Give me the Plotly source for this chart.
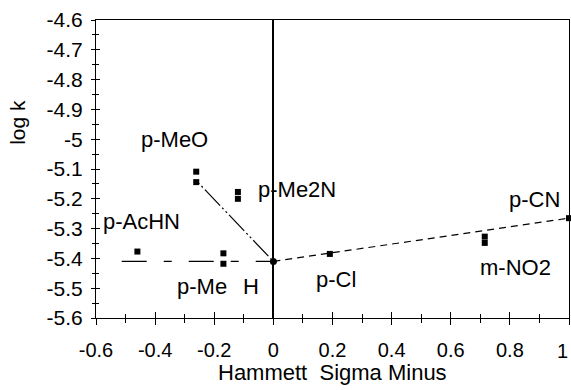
import plotly.graph_objects as go

# ---- data ----
sub_x = [-0.261, -0.261, -0.12, -0.12, -0.46, -0.169, -0.169, 0.191, 0.715, 0.715, 1.0]
sub_y = [-5.109, -5.144, -5.177, -5.200, -5.377, -5.383, -5.418, -5.385, -5.327, -5.348, -5.265]
h_x = [0.0]
h_y = [-5.41]

fit_right_x = [0.0, 1.0]
fit_right_y = [-5.41, -5.265]
fit_left_x = [-0.513, 0.0]
fit_left_y = [-5.41, -5.41]
fit_mid_x = [-0.255, 0.0]
fit_mid_y = [-5.145, -5.41]

x_tick_vals = [-0.6, -0.4, -0.2, 0.0, 0.2, 0.4, 0.6, 0.8, 1.0]
x_tick_labels = ["-0.6", "-0.4", "-0.2", "0", "0.2", "0.4", "0.6", "0.8", "1"]
y_tick_vals = [-4.6, -4.7, -4.8, -4.9, -5.0, -5.1, -5.2, -5.3, -5.4, -5.5, -5.6]
y_tick_labels = ["-4.6", "-4.7", "-4.8", "-4.9", "-5", "-5.1", "-5.2", "-5.3", "-5.4", "-5.5", "-5.6"]

labels = ["p-MeO", "p-Me2N", "p-AcHN", "p-Me", "H", "p-Cl", "m-NO2", "p-CN"]
x_title = "Hammett  Sigma Minus"
y_title = "log k"

FONT = "Arial, Liberation Sans, sans-serif"

fig = go.Figure()

fig.add_trace(go.Scatter(x=fit_right_x, y=fit_right_y, mode="lines",
                         line=dict(color="black", width=1.2, dash="7px,5px"),
                         showlegend=False, hoverinfo="skip"))
fig.add_trace(go.Scatter(x=fit_left_x, y=fit_left_y, mode="lines",
                         line=dict(color="black", width=1.2, dash="25px,17px,8px,17px"),
                         showlegend=False, hoverinfo="skip"))
fig.add_trace(go.Scatter(x=fit_mid_x, y=fit_mid_y, mode="lines",
                         line=dict(color="black", width=1.2, dash="2px,3px,2px,3px,22px,3px"),
                         showlegend=False, hoverinfo="skip"))
fig.add_trace(go.Scatter(x=sub_x, y=sub_y, mode="markers",
                         marker=dict(symbol="square", size=6, color="black"),
                         showlegend=False, cliponaxis=False))
fig.add_trace(go.Scatter(x=h_x, y=h_y, mode="markers",
                         marker=dict(symbol="circle", size=7, color="black"),
                         showlegend=False, cliponaxis=False))
# invisible trace to activate the inside-tick axes (crossing ticks)
fig.add_trace(go.Scatter(x=[None], y=[None], xaxis="x2", yaxis="y2",
                         showlegend=False, hoverinfo="skip"))

label_pos = [(-0.333, -5.0, "center"), (-0.058, -5.169, "left"), (-0.446, -5.277, "center"),
             (-0.243, -5.494, "center"), (-0.077, -5.494, "center"), (0.2125, -5.472, "center"),
             (0.82, -5.429, "center"), (0.882, -5.203, "center")]
for text, (lx, ly, anc) in zip(labels, label_pos):
    fig.add_annotation(x=lx, y=ly, text=text, showarrow=False, xanchor=anc, yanchor="middle",
                       font=dict(family=FONT, size=22, color="black"))

# last x tick label sits against the right edge, right-aligned so it is not cut off
fig.add_annotation(x=x_tick_vals[-1], xref="x", y=-0.111, yref="paper", text=x_tick_labels[-1],
                   showarrow=False, xanchor="right", yanchor="middle", xshift=1,
                   font=dict(family=FONT, size=20, color="black"))

fig.add_annotation(xref="paper", yref="paper", x=-0.165, y=0.658, text=y_title,
                   textangle=-90, showarrow=False, xanchor="center", yanchor="middle",
                   font=dict(family=FONT, size=21, color="black"))
fig.add_annotation(xref="paper", yref="paper", x=0.5, y=-0.183, text=x_title,
                   showarrow=False, xanchor="center", yanchor="middle",
                   font=dict(family=FONT, size=22, color="black"))

axis_common = dict(showgrid=False, color="black", automargin=False)

fig.update_layout(
    width=571, height=390,
    margin=dict(l=96, r=2, t=20, b=72),
    paper_bgcolor="white", plot_bgcolor="white",
    font=dict(family=FONT, size=21, color="black"),
    hovermode=False,
    xaxis=dict(range=[-0.6, 1.0], tickvals=x_tick_vals, ticktext=x_tick_labels[:-1] + [""],
               ticks="outside", ticklen=6, tickwidth=1, tickcolor="black",
               minor=dict(dtick=0.1, tick0=-0.6, ticks="outside", ticklen=4, tickcolor="black"),
               showline=True, linecolor="black", linewidth=1, mirror=True,
               zeroline=True, zerolinecolor="black", zerolinewidth=1.5,
               ticklabelstandoff=8, tickfont=dict(size=20), **axis_common),
    yaxis=dict(range=[-5.6, -4.6], tickvals=y_tick_vals, ticktext=y_tick_labels,
               ticks="outside", ticklen=4, tickwidth=1, tickcolor="black",
               minor=dict(dtick=0.05, tick0=-4.6, ticks="outside", ticklen=3, tickcolor="black"),
               showline=True, linecolor="black", linewidth=1, mirror=True,
               zeroline=False, ticklabelstandoff=4, tickfont=dict(size=21), **axis_common),
    xaxis2=dict(range=[-0.6, 1.0], overlaying="x", anchor="y", side="bottom",
                tickvals=x_tick_vals, showticklabels=False,
                ticks="inside", ticklen=6, tickwidth=1, tickcolor="black",
                minor=dict(dtick=0.1, tick0=-0.6, ticks="inside", ticklen=4, tickcolor="black"),
                showline=False, zeroline=False, **axis_common),
    yaxis2=dict(range=[-5.6, -4.6], overlaying="y", anchor="x", side="left",
                tickvals=y_tick_vals, showticklabels=False,
                ticks="inside", ticklen=4, tickwidth=1, tickcolor="black",
                minor=dict(dtick=0.05, tick0=-4.6, ticks="inside", ticklen=3, tickcolor="black"),
                showline=False, zeroline=False, **axis_common),
)

# remove the default 8px page margin so the 571x390 figure fills the window exactly
fig.write_html("out.html",
               config={"displayModeBar": False},
               post_script="document.body.style.margin='0';document.body.style.overflow='hidden';")
